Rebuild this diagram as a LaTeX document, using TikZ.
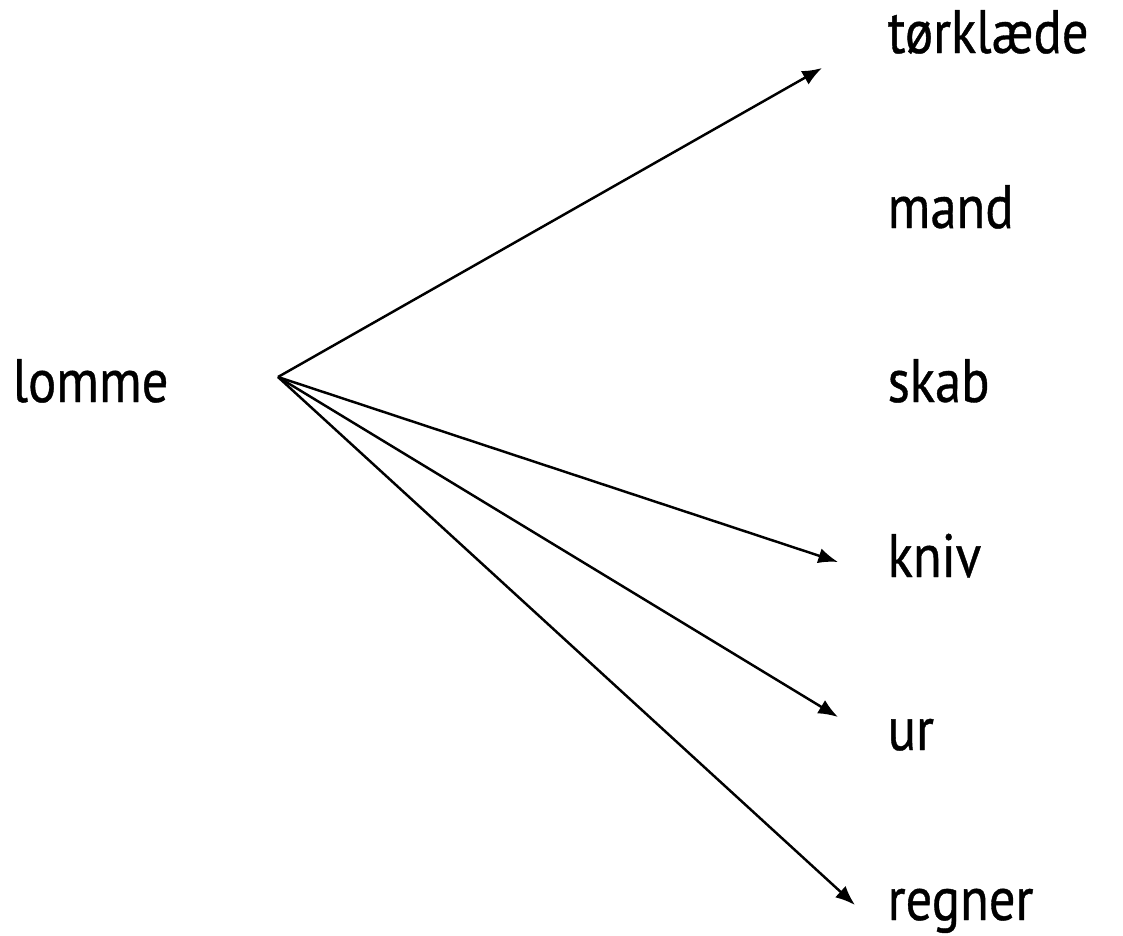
\documentclass[tikz,border=0pt]{standalone}
\usepackage{fontspec}
\setmainfont[FakeStretch=0.86, FakeBold=0.6]{PT Sans}
\usepackage{tikz}
\usetikzlibrary{positioning}
\usetikzlibrary{arrows.meta}

\begin{document}
\begin{tikzpicture}[x=0.01cm, y=-0.01cm,
        word/.style={anchor=base west, inner sep=0pt, font=\fontsize{17.4}{20}\selectfont},
        link/.style={-{Latex[length=5.6pt, width=4.4pt]}, line width=0.7pt}]
        \useasboundingbox (0,0) rectangle (1123,935);
        \def\wx{887}

        \node [word] (lomme) at (12,402) {lomme};
        \node [word] (torklaede) at (\wx,53) {tørklæde};
        \node [word] (mand) at (\wx,228) {mand};
        \node [word] (skab) at (\wx,402) {skab};
        \node [word] (kniv) at (\wx,577) {kniv};
        \node [word] (ur) at (\wx,750) {ur};
        \node [word] (regner) at (\wx,920) {regner};

        \coordinate (hub) at (278,377);
        \coordinate (torklaede-in) at (822,68);
        \coordinate (kniv-in) at (838,562);
        \coordinate (ur-in) at (838,717);
        \coordinate (regner-in) at (855,905);

        \draw [link] (hub) -- (torklaede-in);
        \draw [link] (hub) -- (kniv-in);
        \draw [link] (hub) -- (ur-in);
        \draw [link] (hub) -- (regner-in);
    \end{tikzpicture}
\end{document}
